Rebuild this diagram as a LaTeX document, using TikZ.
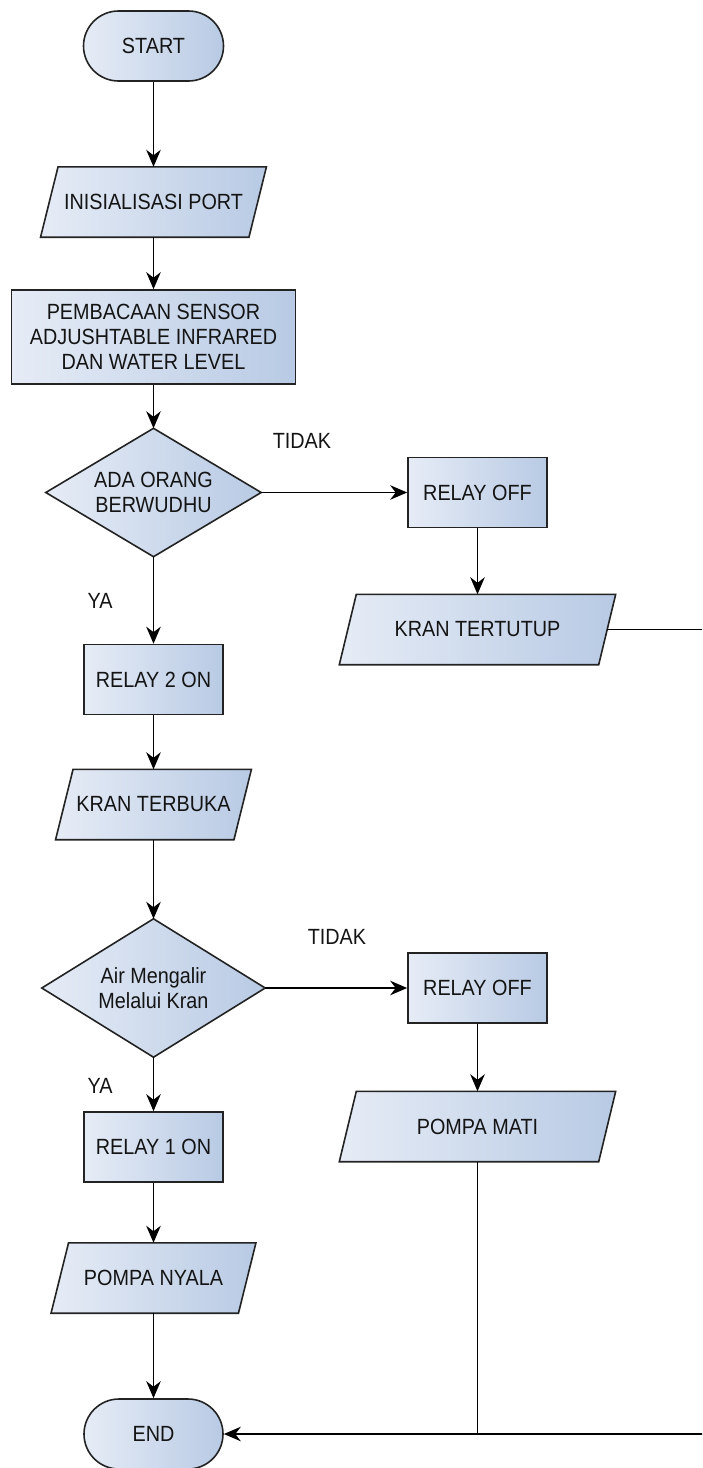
\documentclass[tikz,border=0pt]{standalone}
\usepackage{fontspec}
\setmainfont{Liberation Sans}[FakeStretch=0.9]
\usetikzlibrary{arrows.meta,backgrounds}
\definecolor{fillL}{RGB}{230,236,246}
\definecolor{fillR}{RGB}{184,202,228}
\definecolor{edgec}{RGB}{35,35,35}
\definecolor{txt}{RGB}{20,20,20}
\tikzset{
  base/.style={font=\fontsize{22}{25}\selectfont, align=center, inner sep=0pt, text=txt},
  boxshape/.style={base, rectangle, draw=edgec, line width=1.6pt, left color=fillL, right color=fillR, minimum width=139pt, minimum height=70pt},
  term/.style={boxshape, rounded corners=35pt, minimum width=140pt},
  holder/.style={base, rectangle, minimum height=70pt},
  outline/.style={draw=edgec, line width=1.6pt, left color=fillL, right color=fillR, line join=miter},
  flow/.style={line width=1.8pt, draw=black, -{Stealth[length=17pt,width=14.5pt,inset=5.5pt]}},
  plain/.style={line width=1.8pt, draw=black},
  lbl/.style={font=\fontsize{22}{25}\selectfont, inner sep=0pt, text=txt}
}
\newcommand{\slantbox}[2]{%
  \path[outline] ([xshift=#2pt]#1.north west) -- ([xshift=#2pt]#1.north east)
    -- ([xshift=-#2pt]#1.south east) -- ([xshift=-#2pt]#1.south west) -- cycle;}
\newcommand{\diamondback}[1]{%
  \path[outline] (#1.north) -- (#1.east) -- (#1.south) -- (#1.west) -- cycle;}
\begin{document}
\begin{tikzpicture}[x=1pt,y=-1pt]
\useasboundingbox (0,0) rectangle (702,1468);
\clip (0,0) rectangle (702,1468);

% left column
\node[term] (start) at (153.5,46) {START};
\node[holder, minimum width=208pt] (init) at (153.5,202) {INISIALISASI PORT};
\node[boxshape, minimum width=284pt, minimum height=94pt] (baca) at (153.5,337)
  {PEMBACAAN SENSOR\\ADJUSHTABLE INFRARED\\DAN WATER LEVEL};
\node[holder, minimum width=215pt, minimum height=128pt] (d1) at (153.5,492.5)
  {ADA ORANG\\BERWUDHU};
\node[boxshape] (r2) at (153.5,679.5) {RELAY 2 ON};
\node[holder, minimum width=178pt] (buka) at (153.5,804.5) {KRAN TERBUKA};
\node[holder, minimum width=223pt, minimum height=138pt] (d2) at (153.5,988)
  {Air Mengalir\\Melalui Kran};
\node[boxshape] (r1) at (153.5,1147) {RELAY 1 ON};
\node[holder, minimum width=187pt] (nyala) at (153.5,1278) {POMPA NYALA};
\node[term, minimum width=139pt] (end) at (153.5,1434) {END};

% right column
\node[boxshape] (off1) at (477.5,492.5) {RELAY OFF};
\node[holder, minimum width=259pt] (tutup) at (477.5,629.5) {KRAN TERTUTUP};
\node[boxshape] (off2) at (477.5,988) {RELAY OFF};
\node[holder, minimum width=259pt] (mati) at (477.5,1126.5) {POMPA MATI};

% labels
\node[lbl] (tidak1) at (302,441) {TIDAK};
\node[lbl] (ya1) at (100,601) {YA};
\node[lbl] (tidak2) at (337,937) {TIDAK};
\node[lbl] (ya2) at (100,1086) {YA};

\begin{scope}[on background layer]
  \slantbox{init}{8.75}
  \slantbox{buka}{8.75}
  \slantbox{nyala}{8.75}
  \slantbox{tutup}{8.5}
  \slantbox{mati}{8.5}
  \diamondback{d1}
  \diamondback{d2}
\end{scope}

% connectors
\draw[flow] (start) -- (init);
\draw[flow] (init) -- (baca);
\draw[flow] (baca) -- (d1);
\draw[flow] (d1) -- (r2);
\draw[flow] (r2) -- (buka);
\draw[flow] (buka) -- (d2);
\draw[flow] (d2) -- (r1);
\draw[flow] (r1) -- (nyala);
\draw[flow] (nyala) -- (end);
\draw[flow] (d1.east) -- (off1.west);
\draw[flow] (off1) -- (tutup);
\draw[flow] (d2.east) -- (off2.west);
\draw[flow] (off2) -- (mati);
\coordinate (outr) at (730,629.5);
\draw[flow] (tutup.east) -- (outr) |- (end.east);
\coordinate (join) at (mati.south |- end.east);
\draw[plain] (mati.south) -- (join);
\end{tikzpicture}
\end{document}
